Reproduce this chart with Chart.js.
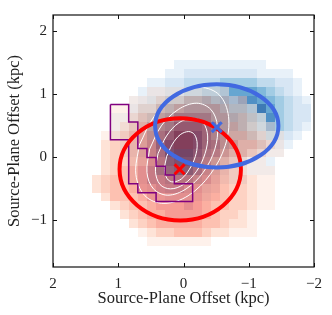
<!DOCTYPE html>
<html>
<head>
<meta charset="utf-8">
<script src="https://cdn.jsdelivr.net/npm/chart.js@4.4.1/dist/chart.umd.min.js"></script>
<style>
  html, body { margin: 0; padding: 0; background: #fff; }
  #wrap { width: 332px; height: 315px; }
</style>
</head>
<body>
<div id="wrap"><canvas id="chart"></canvas></div>
<script>
// Source-plane pixel grid (cell centres in kpc), cells are 0.14 kpc wide
const gridX = [1.33, 1.19, 1.05, 0.91, 0.77, 0.63, 0.49, 0.35, 0.21, 0.07, -0.07, -0.21,
               -0.35, -0.49, -0.63, -0.77, -0.91, -1.05, -1.19, -1.33, -1.47, -1.61, -1.75, -1.89];
const gridY = [1.46, 1.32, 1.18, 1.04, 0.90, 0.76, 0.62, 0.48, 0.34, 0.20, 0.06,
               -0.08, -0.22, -0.36, -0.50, -0.64, -0.78, -0.92, -1.06, -1.20, -1.34];
const cellSize = 0.14;

// red map intensity (0-9), one string per row, top row first
const redMap = [
  '000000000000000000000000',
  '000000000000000000000000',
  '000000000000000000000000',
  '000000111111111000000000',
  '000011122233322110000000',
  '001112233444443221000000',
  '001123344555544332100000',
  '001234455666654432110000',
  '012345566777655443211000',
  '023345677777665544321000',
  '023345678887665443211000',
  '023345678887654321100000',
  '023456788887654321110000',
  '234456777776654332110000',
  '234456677766554332110000',
  '024445666666554332110000',
  '002344566676544332110000',
  '000234556666543321000000',
  '000023455555443221000000',
  '000001233444322111000000',
  '000000111111100000000000'
];

// blue map intensity (0-9), one string per row, top row first
const blueMap = [
  '000000000111111111100000',
  '000000001122222222111100',
  '000000112233334444332210',
  '000001223344556666543210',
  '000012334455667797654321',
  '000023345566666666864322',
  '001123456777766655574322',
  '001123567888776554474321',
  '001123568998765444343210',
  '000123468998765433322100',
  '000123457887654332211000',
  '000012346776543221110000',
  '000012345665432111110000',
  '000012334444321110000000',
  '000001223332210000000000',
  '000000112221100000000000',
  '000000000000000000000000',
  '000000000000000000000000',
  '000000000000000000000000',
  '000000000000000000000000',
  '000000000000000000000000'
];

// white contours
const contourAX = [0.68, 0.45, 0.11, -0.26, -0.55, -0.69, -0.64, -0.41, -0.07, 0.30, 0.59, 0.73, 0.68];
const contourAY = [0.18, 0.64, 0.98, 1.10, 0.98, 0.64, 0.18, -0.28, -0.62, -0.74, -0.62, -0.28, 0.18];
const contourBX = [0.52, 0.34, 0.08, -0.20, -0.42, -0.52, -0.48, -0.30, -0.04, 0.24, 0.46, 0.56, 0.52];
const contourBY = [0.12, 0.49, 0.75, 0.85, 0.75, 0.49, 0.12, -0.25, -0.51, -0.61, -0.51, -0.25, 0.12];
const contourCX = [0.39, 0.26, 0.07, -0.14, -0.30, -0.37, -0.33, -0.20, 0.00, 0.20, 0.36, 0.43, 0.39];
const contourCY = [0.05, 0.33, 0.54, 0.61, 0.54, 0.33, 0.05, -0.23, -0.44, -0.51, -0.44, -0.23, 0.05];
const contourDX = [0.26, 0.17, 0.05, -0.08, -0.17, -0.21, -0.18, -0.09, 0.03, 0.16, 0.25, 0.29, 0.26];
const contourDY = [0.00, 0.20, 0.35, 0.40, 0.35, 0.20, 0.00, -0.20, -0.35, -0.40, -0.35, -0.20, 0.00];

// purple pixel outline
const outlineX = [1.12, 0.84, 0.84, 0.70, 0.70, 0.56, 0.56, 0.42, 0.42, 0.28, 0.28, 0.14, 0.14,
                  -0.14, -0.14, 0.42, 0.42, 0.70, 0.70, 0.84, 0.84, 1.12, 1.12];
const outlineY = [0.83, 0.83, 0.55, 0.55, 0.13, 0.13, -0.01, -0.01, -0.15, -0.15, -0.29, -0.29, -0.43,
                  -0.43, -0.71, -0.71, -0.57, -0.57, -0.43, -0.43, 0.27, 0.27, 0.83];

// ellipses: [centre x, centre y, semi-axis x, semi-axis y]
const redEllipse = [0.05, -0.20, 0.93, 0.81];
const blueEllipse = [-0.51, 0.49, 0.945, 0.66];

// centroids
const redCentre = [0.06, -0.20];
const blueCentre = [-0.51, 0.47];

const xTicks = [2, 1, 0, -1, -2];
const yTicks = [-1, 0, 1, 2];

const REDS = [[255,245,240],[254,224,210],[252,187,161],[252,146,114],[251,106,74],
              [239,59,44],[203,24,29],[165,15,21],[103,0,13]];
const BLUES = [[247,251,255],[222,235,247],[198,219,239],[158,202,225],[107,174,214],
               [66,146,198],[33,113,181],[8,81,156],[8,48,107]];

const cmap = (stops, v) => {
    v = Math.max(0, Math.min(1, v));
    const p = v * (stops.length - 1);
    const i = Math.min(Math.floor(p), stops.length - 2);
    const f = p - i;
    return [0, 1, 2].map(k => Math.round(stops[i][k] + (stops[i + 1][k] - stops[i][k]) * f));
};

const pts = (xs, ys) => xs.map((v, i) => ({ x: v, y: ys[i] }));
const fmt = v => (v < 0 ? '\u2212' + Math.abs(v) : String(v));

// pixel maps under everything
const mapsPlugin = {
    id: 'maps',
    beforeDatasetsDraw(chart) {
        const { ctx, chartArea: a, scales: { x, y } } = chart;
        ctx.save();
        ctx.beginPath();
        ctx.rect(a.left, a.top, a.width, a.height);
        ctx.clip();
        [[blueMap, BLUES, 0.8], [redMap, REDS, 0.5]].forEach(([rows, stops, alpha]) => {
            rows.forEach((row, r) => {
                const y0 = Math.round(y.getPixelForValue(gridY[r] + cellSize / 2));
                const y1 = Math.round(y.getPixelForValue(gridY[r] - cellSize / 2));
                [...row].forEach((ch, c) => {
                    const d = +ch;
                    if (!d) return;
                    const x0 = Math.round(x.getPixelForValue(gridX[c] + cellSize / 2));
                    const x1 = Math.round(x.getPixelForValue(gridX[c] - cellSize / 2));
                    const [R, G, B] = cmap(stops, d / 9 * 0.95);
                    ctx.fillStyle = `rgba(${R},${G},${B},${alpha})`;
                    ctx.fillRect(Math.min(x0, x1), y0, Math.abs(x1 - x0), y1 - y0);
                });
            });
        });
        ctx.restore();
    },
    // ellipses go right after the purple outline, below the centroid markers
    afterDatasetDraw(chart, args) {
        if (chart.data.datasets[args.index].label !== 'outline') return;
        const { ctx, scales: { x, y } } = chart;
        ctx.save();
        [[redEllipse, '#ff0000'], [blueEllipse, '#4169e1']].forEach(([e, col]) => {
            const cx = x.getPixelForValue(e[0]);
            const cy = y.getPixelForValue(e[1]);
            const rx = Math.abs(x.getPixelForValue(e[0] + e[2]) - cx);
            const ry = Math.abs(y.getPixelForValue(e[1] + e[3]) - cy);
            ctx.beginPath();
            ctx.ellipse(cx, cy, rx, ry, 0, 0, Math.PI * 2);
            ctx.strokeStyle = col;
            ctx.lineWidth = 4;
            ctx.stroke();
        });
        ctx.restore();
    }
};

// frame and inward ticks on all four sides
const framePlugin = {
    id: 'frame',
    afterDraw(chart) {
        const { ctx, chartArea: a, scales: { x, y } } = chart;
        const len = 4;
        ctx.save();
        ctx.strokeStyle = '#111';
        ctx.lineWidth = 1.2;
        ctx.strokeRect(a.left, a.top, a.right - a.left, a.bottom - a.top);
        ctx.lineWidth = 1;
        ctx.beginPath();
        xTicks.forEach(v => {
            const px = Math.round(x.getPixelForValue(v)) + 0.5;
            ctx.moveTo(px, a.bottom); ctx.lineTo(px, a.bottom - len);
            ctx.moveTo(px, a.top); ctx.lineTo(px, a.top + len);
        });
        yTicks.forEach(v => {
            const py = Math.round(y.getPixelForValue(v)) + 0.5;
            ctx.moveTo(a.left, py); ctx.lineTo(a.left + len, py);
            ctx.moveTo(a.right, py); ctx.lineTo(a.right - len, py);
        });
        ctx.stroke();
        ctx.restore();
    }
};

const contourStyle = {
    showLine: true, pointRadius: 0, borderColor: '#ffffff', borderWidth: 1,
    tension: 0.35, order: 3
};

const tickFont = { family: "'Liberation Serif', serif", size: 15 };
const titleFont = { family: "'Liberation Serif', serif", size: 16.5 };

new Chart(document.getElementById('chart'), {
    type: 'scatter',
    plugins: [mapsPlugin, framePlugin],
    data: {
        datasets: [
            {
                label: 'red centre', data: pts([redCentre[0]], [redCentre[1]]),
                pointStyle: 'crossRot', pointRadius: 7, borderWidth: 3,
                borderColor: '#ff0000', order: 0
            },
            {
                label: 'blue centre', data: pts([blueCentre[0]], [blueCentre[1]]),
                pointStyle: 'crossRot', pointRadius: 7, borderWidth: 3,
                borderColor: '#4169e1', order: 0
            },
            {
                label: 'outline', data: pts(outlineX, outlineY),
                showLine: true, pointRadius: 0, borderColor: '#800080',
                borderWidth: 1.5, tension: 0, order: 1
            },
            { label: 'c1', data: pts(contourAX, contourAY), ...contourStyle },
            { label: 'c2', data: pts(contourBX, contourBY), ...contourStyle },
            { label: 'c3', data: pts(contourCX, contourCY), ...contourStyle },
            { label: 'c4', data: pts(contourDX, contourDY), ...contourStyle }
        ]
    },
    options: {
        responsive: true,
        maintainAspectRatio: false,
        animation: false,
        layout: { padding: { left: 0, right: 18, top: 6, bottom: 0 } },
        plugins: { legend: { display: false }, tooltip: { enabled: false } },
        scales: {
            x: {
                type: 'linear', min: -2, max: 2, reverse: true,
                afterBuildTicks: s => { s.ticks = xTicks.map(v => ({ value: v })); },
                afterFit: s => { s.height = 48; },
                grid: { display: false, drawTicks: false },
                border: { display: false },
                ticks: { padding: 8, color: '#222', font: tickFont, maxRotation: 0, callback: fmt },
                title: {
                    display: true, text: 'Source-Plane Offset (kpc)', color: '#222',
                    font: titleFont, padding: { top: 0, bottom: 6 }
                }
            },
            y: {
                type: 'linear', min: -1.75, max: 2.25,
                afterBuildTicks: s => { s.ticks = yTicks.map(v => ({ value: v })); },
                afterFit: s => { s.width = 53; },
                grid: { display: false, drawTicks: false },
                border: { display: false },
                ticks: { padding: 6, color: '#222', font: tickFont, callback: fmt },
                title: {
                    display: true, text: 'Source-Plane Offset (kpc)', color: '#222',
                    font: titleFont, padding: { top: 5, bottom: 0 }
                }
            }
        }
    }
});
</script>
</body>
</html>
